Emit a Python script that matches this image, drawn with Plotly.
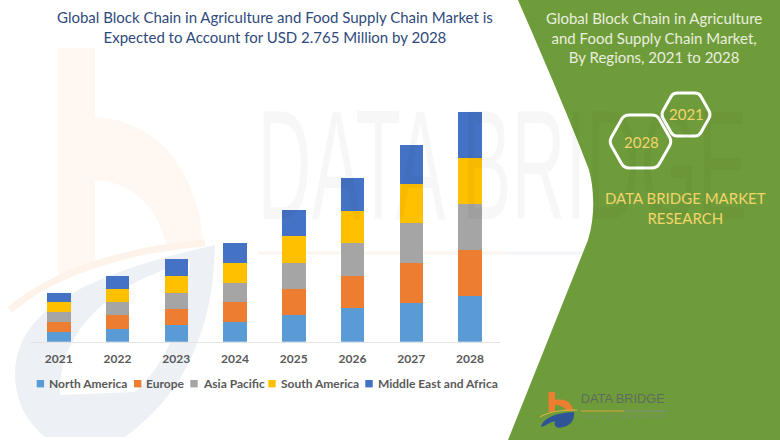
import plotly.graph_objects as go

years = ["2021", "2022", "2023", "2024", "2025", "2026", "2027", "2028"]
north_america = [10.0, 13.0, 16.7, 19.7, 26.7, 33.3, 39.0, 46.0]
europe = [10.0, 13.7, 16.3, 19.7, 26.3, 32.3, 39.3, 45.7]
asia_pacific = [9.7, 12.7, 16.0, 19.3, 26.0, 33.0, 40.0, 46.0]
south_america = [9.7, 13.7, 16.7, 19.7, 26.3, 32.5, 39.0, 45.7]
mea = [9.7, 12.7, 16.7, 20.0, 26.3, 32.7, 39.0, 46.0]
series_names = ["North America", "Europe", "Asia Pacific", "South America", "Middle East and Africa"]
series_colors = ["#5b9bd5", "#ed7d31", "#a5a5a5", "#ffc000", "#4472c4"]
series_values = [north_america, europe, asia_pacific, south_america, mea]
legend_squares = [36.7, 134, 190.3, 268.3, 365.3]
legend_text_x = [47.3, 144.3, 200.7, 278.7, 375.7]

W, H = 780, 440
FONT = "Lato, Carlito, Calibri, sans-serif"


def fx(x):
    return x / W


def fy(y):
    return 1 - y / H


def path(d, fill=None, line=None, lw=0, layer="below"):
    out = []
    for t in d:
        if isinstance(t, str):
            out.append(t)
        else:
            out.append(f"{fx(t[0]):.5f},{fy(t[1]):.5f}")
    return dict(type="path", xref="paper", yref="paper", path=" ".join(out),
                fillcolor=fill or "rgba(0,0,0,0)", layer=layer,
                line=dict(color=line or "rgba(0,0,0,0)", width=lw))


def hexagon(l, r, t, b, inset):
    # rounded-corner hexagon outline
    m = (t + b) / 2
    c = 0.16
    pts = [(l, m), (l + inset, t), (r - inset, t), (r, m), (r - inset, b), (l + inset, b)]
    d = []
    n = len(pts)
    for i, p in enumerate(pts):
        a, z = pts[i - 1], pts[(i + 1) % n]
        s = (p[0] + (a[0] - p[0]) * c, p[1] + (a[1] - p[1]) * c)
        e = (p[0] + (z[0] - p[0]) * c, p[1] + (z[1] - p[1]) * c)
        d += ["M" if i == 0 else "L", s, "Q", p, e]
    return d + ["Z"]


fig = go.Figure()
for name, color, vals in zip(series_names, series_colors, series_values):
    fig.add_bar(x=years, y=vals, name=name, marker=dict(color=color, line=dict(width=0)))

shapes = [
    # faint watermark logo
    path(["M", (58, 48), "L", (95, 48), "L", (95, 117), "C", (150, 120), (195, 160), (204, 243),
          "L", (167, 250), "C", (160, 205), (130, 182), (95, 180), "L", (95, 262), "L", (58, 278), "Z"],
         fill="#fef7f2"),
    path(["M", (15, 372), "C", (18, 320), (60, 280), (215, 245), "C", (214, 320), (190, 390), (125, 437),
          "L", (45, 437), "C", (25, 420), (15, 400), (15, 372), "Z",
          "M", (60, 395), "L", (135, 392), "C", (165, 365), (185, 320), (190, 262),
          "C", (100, 285), (58, 340), (60, 395), "Z"],
         fill="#edf1f6"),
    path(["M", (10, 310), "C", (50, 275), (120, 250), (205, 243)], line="#fdf3ea", lw=7),
    # watermark rule
    path(["M", (258, 253), "L", (507, 253)], line="#fdf6f0", lw=3),
    path(["M", (507, 253), "L", (590, 253)], line="#f3f5f9", lw=3),
    # green side panel
    path(["M", (518, 0), "C", (545, 62), (572, 125), (588, 167), "C", (594, 185), (596, 215), (588, 240),
          "L", (508, 440), "L", (780, 440), "L", (780, 0), "Z"], fill="#6f9c3a"),
    # hexagons
    path(hexagon(609, 672, 115, 168, 15), line="#ffffff", lw=3),
    path(hexagon(661, 711, 93, 136, 12), line="#ffffff", lw=3),
    # small logo
    path(["M", (548.5, 392), "L", (555, 392), "L", (555, 400), "C", (566, 398), (572, 403), (573, 411),
          "L", (566, 411), "C", (564, 406), (560, 405), (555, 405), "L", (555, 411), "L", (548.5, 412), "Z"],
         fill="#ed7d31", layer="above"),
    path(["M", (541, 427), "C", (543, 418), (556, 413), (574, 412), "C", (575, 420), (570, 426), (563, 427),
          "C", (558, 429), (553, 427), (555, 421), "C", (550, 422), (546, 426), (541, 427), "Z"],
         fill="#2f5597", layer="above"),
    path(["M", (540, 417), "C", (548, 412), (560, 410), (577, 410)], line="#e8b33a", lw=1, layer="above"),
    path(["M", (581, 411), "L", (624, 411)], line="#d9a441", lw=1, layer="above"),
    path(["M", (624, 411), "L", (667, 411)], line="#7f8f8f", lw=1, layer="above"),
]
for sq, color in zip(legend_squares, series_colors):
    shapes.append(dict(type="rect", xref="paper", yref="paper", layer="above",
                       x0=fx(sq), x1=fx(sq + 7.4), y0=fy(387.4), y1=fy(380),
                       fillcolor=color, line=dict(width=0)))


def note(x, y, text, size, color, anchor="center", family=FONT, **kw):
    return dict(x=fx(x), y=fy(y), xref="paper", yref="paper", text=text, showarrow=False,
                xanchor=anchor, yanchor="middle", align="center",
                font=dict(family=family, size=size, color=color), **kw)


annotations = [
    note(502, 165, "DATA BRIDGE", 155, "rgba(0,0,0,0.03)", family="Liberation Sans, sans-serif"),
    note(502, 310, "MARKET RESEARCH", 42, "rgba(0,0,0,0.025)", family="Liberation Sans, sans-serif"),
    note(275, 27, "Global Block Chain in Agriculture and Food Supply Chain Market is<br>"
                  "Expected to Account for USD 2.765 Million by 2028", 15, "#2f4a7c"),
    note(654, 37, "Global Block Chain in Agriculture<br>and Food Supply Chain Market,<br>By Regions, 2021 to 2028",
         15, "#e9eedf"),
    note(641.5, 142, "2028", 15, "#f2d56b"),
    note(686.5, 114, "2021", 15, "#f2d56b"),
    note(685, 208, "DATA BRIDGE MARKET<br>RESEARCH", 15, "#f2d56b"),
    note(623, 398, "DATA BRIDGE", 13, "#5f6b5f", family="Liberation Sans, sans-serif"),
    note(624, 417, "MARKET RESEARCH", 5, "#7f8f7f"),
]
for name, tx in zip(series_names, legend_text_x):
    annotations.append(note(tx, 383.5, f"<b>{name}</b>", 12, "#595959", anchor="left"))

fig.update_layout(
    width=W, height=H, barmode="stack", bargap=0.6, showlegend=False,
    margin=dict(l=0, r=0, t=0, b=0),
    paper_bgcolor="#ffffff", plot_bgcolor="rgba(0,0,0,0)",
    shapes=shapes, annotations=annotations,
    xaxis=dict(domain=[fx(30), fx(500)], type="category", range=[-0.49, 7.51],
               showgrid=False, zeroline=False, showline=True, linecolor="#e3e3e3", linewidth=1,
               ticks="", ticklabelstandoff=6,
               tickfont=dict(family=FONT, size=12, color="#595959", weight="bold")),
    yaxis=dict(domain=[fy(341.7), fy(100)], range=[0, 241.7], visible=False),
)

# Condense the wide watermark wordings to the lengths they occupy in the reference.
post = """
document.body.style.margin='0';
var fit = {'0': [490, 'spacingAndGlyphs'], '1': [490, 'spacing'], '7': [84, 'spacingAndGlyphs'], '8': [84, 'spacing']};
document.querySelectorAll('.annotation').forEach(function (g) {
  var i = g.getAttribute('data-index');
  if (fit[i]) {
    var t = g.querySelector('text');
    t.setAttribute('textLength', fit[i][0]);
    t.setAttribute('lengthAdjust', fit[i][1]);
  }
});
"""
fig.write_html("out.html", post_script=post, config={"displayModeBar": False})
